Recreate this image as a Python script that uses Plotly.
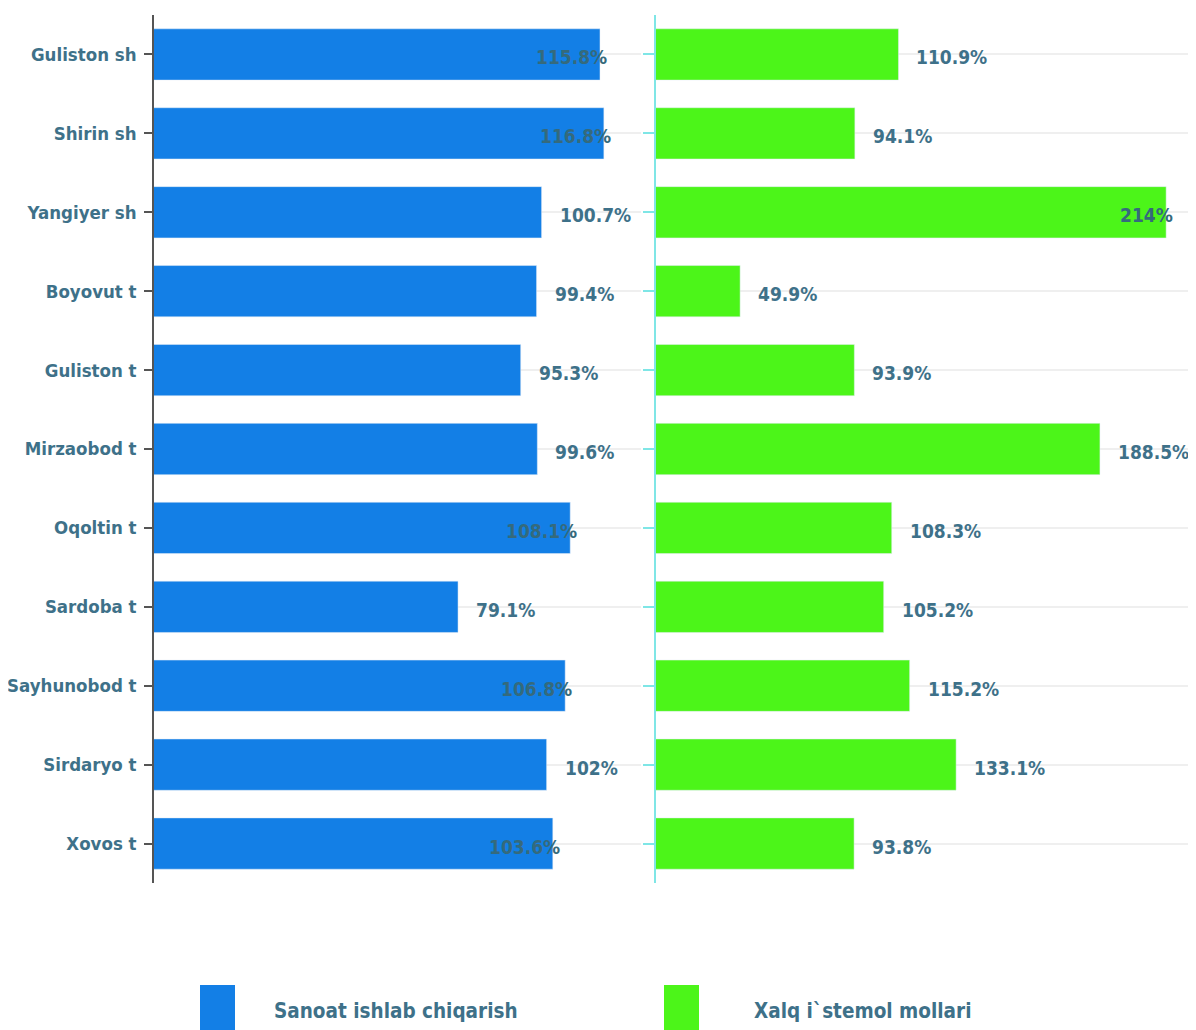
import plotly.graph_objects as go

categories = ["Guliston sh", "Shirin sh", "Yangiyer sh", "Boyovut t", "Guliston t",
              "Mirzaobod t", "Oqoltin t", "Sardoba t", "Sayhunobod t", "Sirdaryo t", "Xovos t"]
sanoat = [115.8, 116.8, 100.7, 99.4, 95.3, 99.6, 108.1, 79.1, 106.8, 102, 103.6]
xalq = [110.9, 94.1, 214, 49.9, 93.9, 188.5, 108.3, 105.2, 115.2, 133.1, 93.8]
series_names = ["Sanoat ishlab chiqarish", "Xalq i`stemol mollari"]

# label placement style (label pulled back over the bar end where it would overflow)
inside_left = [True, True, False, False, False, False, True, False, True, False, True]
inside_right = [False, False, True, False, False, False, False, False, False, False, False]

BLUE = "#137fe6"
GREEN = "#4cf519"
TXT = "#3e7189"
TXT_IN = "#356a7c"
FONT = "Liberation Sans Narrow, Arial Narrow, DejaVu Sans Condensed, sans-serif"

# page has an 8px body margin; work in reference-pixel coordinates and shift
OFF = 8
W, H = 1196 - OFF, 1030 - OFF
ML, MT = 154 - OFF, 15 - OFF
MR = 0
MB = 1030 - 883
PW = W - ML - MR
PH = H - MT - MB

def fx(px):
    return (px - OFF - ML) / PW

def fy(py):
    return (H - MB - (py - OFF)) / PH

fig = go.Figure()
fig.add_trace(go.Bar(y=categories, x=sanoat, orientation="h", marker=dict(color=BLUE),
                     name=series_names[0], xaxis="x", yaxis="y", showlegend=False,
                     hoverinfo="x+y"))
fig.add_trace(go.Bar(y=categories, x=xalq, orientation="h", marker=dict(color=GREEN),
                     name=series_names[1], xaxis="x2", yaxis="y2", showlegend=False,
                     hoverinfo="x+y"))

def fmt(v):
    return f"{v:g}%"

annotations = []
for xr, yr, vals, insides in (("x", "y", sanoat, inside_left), ("x2", "y2", xalq, inside_right)):
    for cat, v, ins in zip(categories, vals, insides):
        annotations.append(dict(x=v, y=cat, xref=xr, yref=yr, text="<b>" + fmt(v) + "</b>",
                                showarrow=False, xanchor="right" if ins else "left",
                                xshift=9 if ins else 16, yshift=-3,
                                font=dict(family=FONT, size=19, color=TXT_IN if ins else TXT)))

# legend (drawn manually to match large swatches)
legend_items = [(series_names[0], BLUE, 200, 272), (series_names[1], GREEN, 664, 752)]
shapes = []
for name, col, sx, tx in legend_items:
    shapes.append(dict(type="rect", xref="paper", yref="paper",
                       x0=fx(sx), x1=fx(sx + 35), y0=fy(1040), y1=fy(985),
                       fillcolor=col, line=dict(width=0)))
    annotations.append(dict(x=fx(tx), y=fy(1011), xref="paper", yref="paper",
                            text="<b>" + name + "</b>", showarrow=False,
                            xanchor="left", yanchor="middle",
                            font=dict(family=FONT, size=20.5, color=TXT)))

fig.update_layout(
    width=W, height=H,
    margin=dict(l=ML, r=MR, t=MT, b=MB, autoexpand=False),
    paper_bgcolor="white", plot_bgcolor="white",
    bargap=0.35,
    xaxis=dict(domain=[0, fx(641)], range=[0.5, 126.4], showgrid=False, zeroline=False,
               showticklabels=False, ticks="", showline=False, fixedrange=True,
               automargin=False),
    xaxis2=dict(domain=[fx(656), 1], range=[17.5, 225.5], showgrid=False, zeroline=False,
                showticklabels=False, ticks="", showline=False, fixedrange=True,
                automargin=False),
    yaxis=dict(domain=[0, 1], anchor="x", autorange="reversed", categoryorder="array",
               categoryarray=categories, showgrid=True, gridcolor="#efefef", gridwidth=2,
               showline=True, linecolor="#555555", linewidth=1.5,
               ticks="outside", ticklen=8, tickcolor="#555555", tickwidth=1.5,
               tickfont=dict(family=FONT, size=18.5, color=TXT, weight="bold"),
               ticklabelstandoff=4, automargin=False),
    yaxis2=dict(domain=[0, 1], anchor="x2", autorange="reversed", categoryorder="array",
                categoryarray=categories, showgrid=True, gridcolor="#efefef", gridwidth=2,
                showline=True, linecolor="#7fe6e6", linewidth=1.5,
                ticks="outside", ticklen=11, tickcolor="#7fe6e6", tickwidth=1.5,
                showticklabels=False, automargin=False),
    annotations=annotations,
    shapes=shapes,
)

fig.write_html("out.html")
